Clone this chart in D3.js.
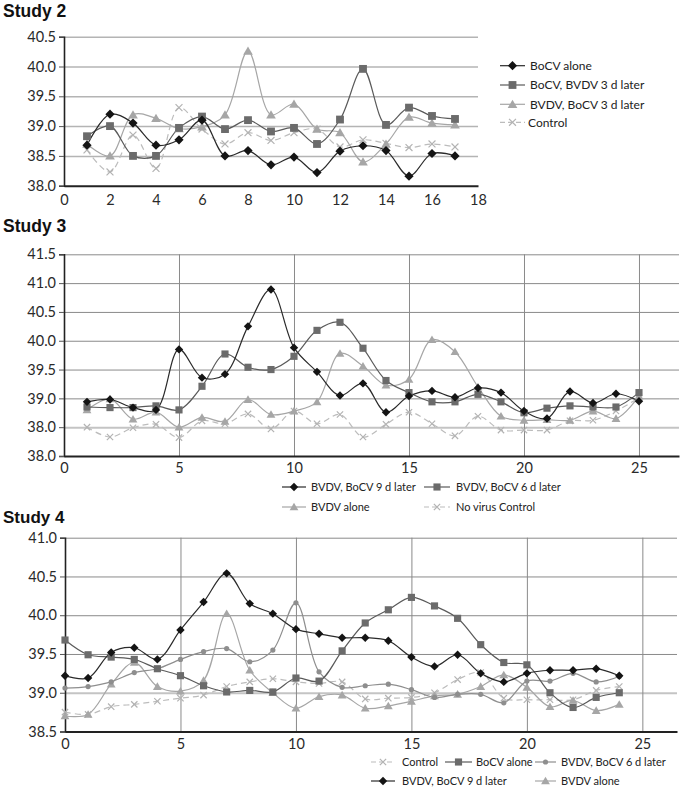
<!DOCTYPE html>
<html><head><meta charset="utf-8">
<script src="https://cdn.jsdelivr.net/npm/d3@7"></script>
<style>body{margin:0;background:#fff}svg{display:block}</style>
</head><body>
<svg id="chart" width="683" height="791"></svg>
<script>
// ---------------- DATA ----------------
// Study 2
const s2Days = [1,2,3,4,5,6,7,8,9,10,11,12,13,14,15,16,17];
const s2BoCVAlone      = [38.68,39.20,39.05,38.68,38.77,39.10,38.50,38.59,38.35,38.48,38.22,38.58,38.67,38.59,38.16,38.54,38.50];
const s2BoCVthenBVDV   = [38.83,39.00,38.50,38.50,38.97,39.16,38.95,39.10,38.91,38.97,38.70,39.11,39.96,39.02,39.31,39.17,39.12];
const s2BVDVthenBoCV   = [38.70,38.50,39.19,39.13,38.96,38.99,39.19,40.26,39.19,39.37,38.95,38.89,38.40,38.70,39.15,39.05,39.02];
const s2Control        = [38.60,38.23,38.85,38.29,39.31,38.95,38.70,38.89,38.76,38.89,38.95,38.65,38.77,38.71,38.64,38.70,38.65];
const s2XTicks = [0,2,4,6,8,10,12,14,16,18];
const s2YTicks = [38.0,38.5,39.0,39.5,40.0,40.5];
const s2YLabels = ["38.0","38.5","39.0","39.5","40.0","40.5"];
const s2Names = ["BoCV alone","BoCV, BVDV 3 d later","BVDV, BoCV  3 d later","Control"];

// Study 3
const s3Days = [1,2,3,4,5,6,7,8,9,10,11,12,13,14,15,16,17,18,19,20,21,22,23,24,25];
const s3BVDV9d   = [38.94,38.98,38.84,38.80,39.85,39.36,39.42,40.25,40.89,39.88,39.46,39.05,39.26,38.76,39.04,39.13,39.02,39.18,39.10,38.78,38.65,39.12,38.92,39.08,38.95];
const s3BVDV6d   = [38.85,38.84,38.84,38.87,38.80,39.21,39.77,39.54,39.50,39.73,40.18,40.32,39.87,39.31,39.10,38.94,38.94,39.07,38.94,38.75,38.83,38.87,38.85,38.85,39.10];
const s3BVDVAlone= [38.80,38.99,38.64,38.76,38.50,38.67,38.60,38.98,38.72,38.78,38.94,39.78,39.56,39.23,39.33,40.02,39.81,39.20,38.69,38.62,38.63,38.62,38.78,38.65,39.04];
const s3Control  = [38.50,38.33,38.49,38.55,38.32,38.61,38.56,38.73,38.47,38.78,38.56,38.72,38.33,38.55,38.76,38.56,38.35,38.69,38.45,38.45,38.45,38.61,38.62,38.78,39.01];
const s3XTicks = [0,5,10,15,20,25];
const s3YTicks = [38.0,38.5,39.0,39.5,40.0,40.5,41.0,41.5];
const s3YLabels = ["38.0","38.0","39.0","39.5","40.0","40.5","41.0","41.5"];
const s3Names = ["BVDV, BoCV 9 d later","BVDV,  BoCV 6 d later","BVDV alone","No virus Control"];

// Study 4
const s4Days = [0,1,2,3,4,5,6,7,8,9,10,11,12,13,14,15,16,17,18,19,20,21,22,23,24];
const s4Control   = [38.75,38.72,38.82,38.85,38.89,38.93,38.97,39.08,39.14,39.18,39.14,39.12,39.14,38.92,38.93,38.94,39.00,39.17,39.26,38.93,38.91,38.91,38.91,39.03,39.08];
const s4BoCVAlone = [39.68,39.49,39.46,39.43,39.31,39.22,39.09,39.01,39.03,39.01,39.19,39.15,39.54,39.90,40.07,40.23,40.12,39.96,39.62,39.39,39.36,39.00,38.81,38.94,39.00];
const s4BVDV6d    = [39.06,39.08,39.14,39.26,39.31,39.43,39.53,39.57,39.40,39.55,40.16,39.27,39.07,39.09,39.11,39.04,38.94,38.98,38.98,38.87,39.15,39.15,39.25,39.14,39.21];
const s4BVDV9d    = [39.22,39.19,39.52,39.58,39.43,39.81,40.17,40.54,40.15,40.02,39.82,39.76,39.71,39.71,39.67,39.46,39.34,39.49,39.25,39.14,39.25,39.29,39.29,39.31,39.22];
const s4BVDVAlone = [38.70,38.72,39.11,39.39,39.08,39.02,39.16,40.02,39.29,39.00,38.80,38.95,38.97,38.80,38.83,38.89,38.96,38.98,39.08,39.23,39.07,38.82,38.90,38.77,38.85];
const s4XTicks = [0,5,10,15,20,25];
const s4YTicks = [38.5,39.0,39.5,40.0,40.5,41.0];
const s4YLabels = ["38.5","39.0","39.5","40.0","40.5","41.0"];
const s4Names = ["Control","BoCV alone","BVDV, BoCV 6 d later","BVDV, BoCV 9 d later","BVDV  alone"];

// ---------------- STYLES ----------------
const ST = {
  diamond:  {marker:"diamond",  fill:"#141414", line:"#2a2a2a", dash:null},
  square:   {marker:"square",   fill:"#6b6b6b", line:"#5a5a5a", dash:null},
  triangle: {marker:"triangle", fill:"#a6a6a6", line:"#a6a6a6", dash:null},
  cross:    {marker:"cross",    fill:"#b3b3b3", line:"#bcbcbc", dash:"6,4"},
  circle:   {marker:"circle",   fill:"#8e8e8e", line:"#8e8e8e", dash:null}
};

const svg = d3.select("#chart");
const tickFont = "Lato, 'Open Sans', sans-serif";
const narrowFont = "'Liberation Sans Narrow', 'Arial Narrow', Lato, sans-serif";

function drawMarker(g, type, cx, cy, s, st) {
  if (type === "diamond") {
    g.append("path").attr("d", `M${cx},${cy-s}L${cx+s},${cy}L${cx},${cy+s}L${cx-s},${cy}Z`).attr("fill", st.fill);
  } else if (type === "square") {
    const h = s*0.85;
    g.append("rect").attr("x", cx-h).attr("y", cy-h).attr("width", 2*h).attr("height", 2*h).attr("fill", st.fill);
  } else if (type === "triangle") {
    const h = s*1.0;
    g.append("path").attr("d", `M${cx},${cy-h}L${cx+h*1.05},${cy+h*0.8}L${cx-h*1.05},${cy+h*0.8}Z`).attr("fill", st.fill);
  } else if (type === "cross") {
    const h = s*0.75;
    g.append("path").attr("d", `M${cx-h},${cy-h}L${cx+h},${cy+h}M${cx-h},${cy+h}L${cx+h},${cy-h}`)
      .attr("stroke", st.fill).attr("stroke-width", 1.2).attr("fill", "none");
  } else if (type === "circle") {
    g.append("circle").attr("cx", cx).attr("cy", cy).attr("r", s*0.62).attr("fill", st.fill);
  }
}

function drawPanel(cfg) {
  const g = svg.append("g");
  const x = d3.scaleLinear().domain(cfg.xDomain).range(cfg.xRange);
  const y = d3.scaleLinear().domain(cfg.yDomain).range(cfg.yRange);
  const [x0, x1] = cfg.xRange;
  const [yb, yt] = cfg.yRange;

  // horizontal gridlines (via axis)
  const gridG = g.append("g").attr("transform", `translate(${x0},0)`)
    .call(d3.axisLeft(y).tickValues(cfg.yTicks.slice(1)).tickSize(-(x1 - x0)).tickFormat(""));
  gridG.select(".domain").remove();
  gridG.selectAll(".tick line").attr("stroke", cfg.gridColor).attr("stroke-width", cfg.gridWidth);
  if (cfg.lightGrid) {
    gridG.selectAll(".tick line").filter(d => cfg.lightGrid.includes(d))
      .attr("stroke", "#c4c4c4").attr("stroke-width", 2);
  }
  // vertical gridlines
  if (cfg.vGrid) {
    const vg = g.append("g").attr("transform", `translate(0,${yb})`)
      .call(d3.axisBottom(x).tickValues(cfg.xTicks.slice(1)).tickSize(-(yb - yt)).tickFormat(""));
    vg.select(".domain").remove();
    vg.selectAll(".tick line").attr("stroke", cfg.gridColor).attr("stroke-width", 1);
  }
  // y axis with labels
  const yAx = g.append("g").attr("transform", `translate(${x0},0)`)
    .call(d3.axisLeft(y).tickValues(cfg.yTicks).tickSize(5).tickPadding(3)
      .tickFormat((d, i) => cfg.yLabels[i]));
  yAx.select(".domain").attr("stroke", "#222").attr("stroke-width", 1.6);
  yAx.selectAll(".tick line").attr("stroke", "#555").attr("stroke-width", 1);
  yAx.selectAll("text").attr("font-family", tickFont).attr("font-size", 14.5).attr("fill", "#2a2a2a");
  // x axis
  const xAx = g.append("g").attr("transform", `translate(0,${yb})`)
    .call(d3.axisBottom(x).tickValues(cfg.xTicks).tickSize(0).tickPadding(cfg.xPad).tickSizeOuter(0));
  xAx.select(".domain").attr("stroke", "#222").attr("stroke-width", 2);
  xAx.selectAll("text").attr("font-family", tickFont).attr("font-size", 14.5).attr("fill", "#2a2a2a");

  // title
  svg.append("text").attr("x", 3).attr("y", cfg.titleY).text(cfg.title)
    .attr("font-family", "'Liberation Sans', Arial, sans-serif").attr("font-weight", "bold")
    .attr("font-size", cfg.titleSize).attr("fill", "#111");

  // series
  const line = d3.line().x(d => x(d[0])).y(d => y(d[1])).curve(d3.curveCatmullRom.alpha(0.5));
  cfg.series.forEach(s => {
    const pts = s.days.map((d, i) => [d, s.values[i]]);
    g.append("path").attr("d", line(pts)).attr("fill", "none")
      .attr("stroke", s.st.line).attr("stroke-width", 1.2)
      .attr("stroke-dasharray", s.st.dash);
  });
  cfg.series.forEach(s => {
    const mg = g.append("g");
    s.days.forEach((d, i) => drawMarker(mg, s.st.marker, x(d), y(s.values[i]), cfg.markerSize, s.st));
  });

  // legend
  cfg.legend.forEach(item => {
    const lg = svg.append("g");
    lg.append("line").attr("x1", item.lx0).attr("x2", item.lx1).attr("y1", item.y).attr("y2", item.y)
      .attr("stroke", item.st.line).attr("stroke-width", 1.2).attr("stroke-dasharray", item.st.dash ? "5,3" : null);
    drawMarker(lg, item.st.marker, (item.lx0 + item.lx1) / 2, item.y, cfg.legendMarker, item.st);
    lg.append("text").attr("x", item.tx).attr("y", item.y).attr("dy", "0.35em").text(item.name)
      .attr("font-family", cfg.legendFont).attr("font-size", cfg.legendSize).attr("fill", "#222");
  });
}

// ---------------- STUDY 2 ----------------
drawPanel({
  title: "Study 2", titleY: 17, titleSize: 17.5,
  xDomain: [0, 18], xRange: [64, 478],
  yDomain: [38, 40.5], yRange: [185.7, 36.7],
  xTicks: s2XTicks, yTicks: s2YTicks, yLabels: s2YLabels,
  gridColor: "#b4b4b4", gridWidth: 1.5, vGrid: false, xPad: 9,
  markerSize: 4.6, legendMarker: 4.6, legendFont: tickFont, legendSize: 12,
  series: [
    {days: s2Days, values: s2Control, st: ST.cross},
    {days: s2Days, values: s2BVDVthenBoCV, st: ST.triangle},
    {days: s2Days, values: s2BoCVthenBVDV, st: ST.square},
    {days: s2Days, values: s2BoCVAlone, st: ST.diamond}
  ],
  legend: [
    {name: s2Names[0], st: ST.diamond,  y: 65.7,  lx0: 500, lx1: 525, tx: 530},
    {name: s2Names[1], st: ST.square,   y: 85,    lx0: 500, lx1: 525, tx: 530},
    {name: s2Names[2], st: ST.triangle, y: 104.3, lx0: 500, lx1: 525, tx: 530},
    {name: s2Names[3], st: ST.cross,    y: 122.3, lx0: 500, lx1: 525, tx: 528}
  ]
});

// ---------------- STUDY 3 ----------------
drawPanel({
  title: "Study 3", titleY: 232, titleSize: 17.5,
  xDomain: [0, 26.74], xRange: [64, 679],
  yDomain: [38, 41.5], yRange: [456, 254.3],
  xTicks: s3XTicks, yTicks: s3YTicks, yLabels: s3YLabels,
  gridColor: "#8a8a8a", gridWidth: 1, vGrid: true, lightGrid: [38.5], xPad: 7,
  markerSize: 4.2, legendMarker: 4.2, legendFont: narrowFont, legendSize: 11,
  series: [
    {days: s3Days, values: s3Control, st: ST.cross},
    {days: s3Days, values: s3BVDVAlone, st: ST.triangle},
    {days: s3Days, values: s3BVDV6d, st: ST.square},
    {days: s3Days, values: s3BVDV9d, st: ST.diamond}
  ],
  legend: [
    {name: s3Names[0], st: ST.diamond,  y: 487, lx0: 282, lx1: 306, tx: 311},
    {name: s3Names[1], st: ST.square,   y: 487, lx0: 424, lx1: 450, tx: 456},
    {name: s3Names[2], st: ST.triangle, y: 507, lx0: 282, lx1: 306, tx: 311},
    {name: s3Names[3], st: ST.cross,    y: 507, lx0: 424, lx1: 450, tx: 456}
  ]
});

// ---------------- STUDY 4 ----------------
drawPanel({
  title: "Study 4", titleY: 523, titleSize: 17,
  xDomain: [0, 26.5], xRange: [65, 677],
  yDomain: [38.5, 41], yRange: [731.5, 537.7],
  xTicks: s4XTicks, yTicks: s4YTicks, yLabels: s4YLabels,
  gridColor: "#8a8a8a", gridWidth: 1, vGrid: true, lightGrid: [39.0], xPad: 7,
  markerSize: 4.2, legendMarker: 4.2, legendFont: narrowFont, legendSize: 11,
  series: [
    {days: s4Days, values: s4Control, st: ST.cross},
    {days: s4Days, values: s4BVDVAlone, st: ST.triangle},
    {days: s4Days, values: s4BVDV6d, st: ST.circle},
    {days: s4Days, values: s4BoCVAlone, st: ST.square},
    {days: s4Days, values: s4BVDV9d, st: ST.diamond}
  ],
  legend: [
    {name: s4Names[0], st: ST.cross,    y: 762, lx0: 371, lx1: 395, tx: 402},
    {name: s4Names[1], st: ST.square,   y: 762, lx0: 445, lx1: 472, tx: 476},
    {name: s4Names[2], st: ST.circle,   y: 762, lx0: 535, lx1: 556, tx: 561},
    {name: s4Names[3], st: ST.diamond,  y: 781, lx0: 371, lx1: 395, tx: 402},
    {name: s4Names[4], st: ST.triangle, y: 781, lx0: 535, lx1: 556, tx: 561}
  ]
});
</script>
</body></html>
